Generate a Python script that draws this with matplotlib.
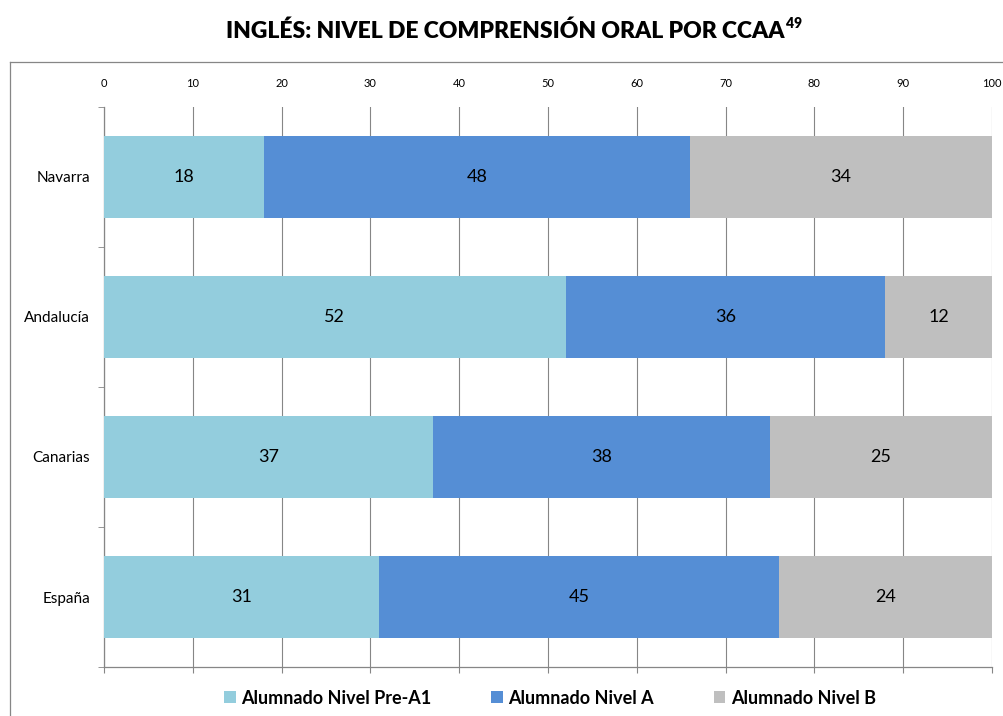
import matplotlib
matplotlib.use("Agg")
import matplotlib.pyplot as plt
from matplotlib.lines import Line2D
import numpy as np

plt.rcParams['font.family'] = ['Lato', 'DejaVu Sans']

categories = ["Navarra", "Andalucía", "Canarias", "España"]
series_names = ["Alumnado Nivel Pre-A1", "Alumnado Nivel A", "Alumnado Nivel B"]
pre_a1 = [18, 52, 37, 31]
nivel_a = [48, 36, 38, 45]
nivel_b = [34, 12, 25, 24]
xticks = [0, 10, 20, 30, 40, 50, 60, 70, 80, 90, 100]
colors = ["#93CDDD", "#558ED5", "#BFBFBF"]

fig = plt.figure(figsize=(10.04, 7.16), dpi=100)
ax = fig.add_axes([104/1004, 49/716, 888/1004, 560/716])

y = np.arange(len(categories))
left = np.zeros(len(categories))
for vals, name, col in zip([pre_a1, nivel_a, nivel_b], series_names, colors):
    bars = ax.barh(y, vals, left=left, height=0.586, color=col, label=name, zorder=3)
    for b, v in zip(bars, vals):
        ax.text(b.get_x() + b.get_width()/2, b.get_y() + b.get_height()/2, str(v),
                ha='center', va='center', fontsize=13, color='black', zorder=4)
    left += np.array(vals)

ax.set_xlim(0, 100)
ax.set_ylim(len(categories) - 0.5, -0.5)
ax.set_xticks(xticks)
ax.set_xticklabels([str(t) for t in xticks], fontsize=8)
ax.tick_params(axis='x', top=False, labeltop=True, bottom=True, labelbottom=False,
               direction='out', length=4, color='#868686', pad=9)
ax.set_yticks(y)
ax.set_yticklabels(categories, fontsize=11)
ax.set_yticks(np.arange(len(categories) + 1) - 0.5, minor=True)
ax.tick_params(axis='y', which='major', length=0, pad=10)
ax.tick_params(axis='y', which='minor', length=4, color='#868686', direction='out')
ax.grid(axis='x', color='#868686', linewidth=0.8, zorder=0)
for s in ['top', 'right']:
    ax.spines[s].set_visible(False)
for s in ['left', 'bottom']:
    ax.spines[s].set_color('#868686')
    ax.spines[s].set_linewidth(0.9)

title = fig.text(505/1004, 1 - 31/716, "INGLÉS: NIVEL DE COMPRENSIÓN ORAL POR CCAA",
                 ha='center', va='center', fontsize=16.5, fontweight='heavy')
fig.add_artist(matplotlib.text.Annotation("49", xy=(1, 1), xycoords=title,
               xytext=(1, 2), textcoords='offset points', ha='left', va='top',
               fontsize=10, fontweight='heavy'))

# outer chart frame
fig.add_artist(Line2D([10/1004, 10/1004], [0, 1 - 62/716], transform=fig.transFigure,
                      color='#868686', linewidth=0.9))
fig.add_artist(Line2D([10/1004, 1], [1 - 62/716, 1 - 62/716], transform=fig.transFigure,
                      color='#868686', linewidth=0.9))

handles, labels = ax.get_legend_handles_labels()
fig.legend(handles, labels, loc='center', bbox_to_anchor=(550/1004, 1 - 698/716), ncol=3,
           frameon=False, prop={'weight': 'bold', 'size': 13}, handlelength=0.65,
           handleheight=0.65, handletextpad=0.3, columnspacing=3.3)

fig.savefig("out.png", dpi=100)
